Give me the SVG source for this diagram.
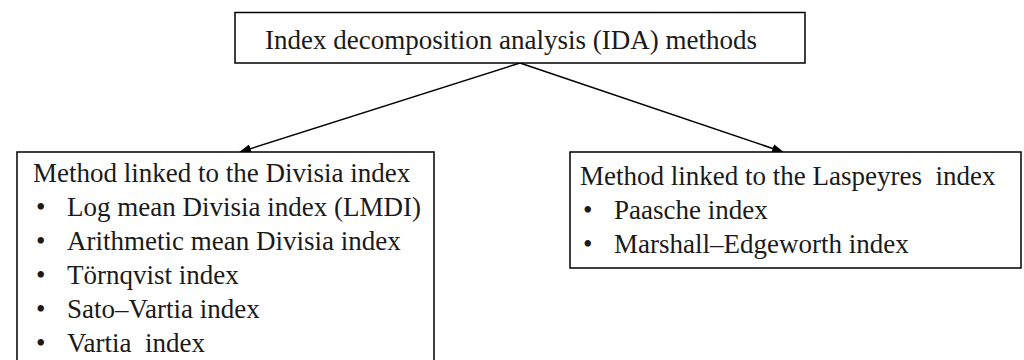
<svg xmlns="http://www.w3.org/2000/svg" width="1024" height="360" viewBox="0 0 1024 360">
<style>
.box{fill:#fff;stroke:#000;stroke-width:1.5}
.t{font-family:"Liberation Serif","Times New Roman",serif;font-size:27px;fill:#1a1a1a}
.ln{stroke:#000;stroke-width:1.5;fill:none}
</style>
<defs>
<marker id="ah" markerWidth="12" markerHeight="9" refX="11" refY="4.5" orient="auto" markerUnits="userSpaceOnUse">
<path d="M0,0 L12,4.5 L0,9 z" fill="#000"/>
</marker>
</defs>
<rect width="1024" height="360" fill="#fff"/>
<g id="connectors">
<line class="ln" x1="520" y1="63" x2="240" y2="152" marker-end="url(#ah)"/>
<line class="ln" x1="520" y1="63" x2="783" y2="152" marker-end="url(#ah)"/>
</g>
<g id="top">
<rect class="box" x="235" y="12.5" width="570" height="50.5"/>
<text class="t" x="265" y="49">Index decomposition analysis (IDA) methods</text>
</g>
<g id="divisia">
<rect class="box" x="17" y="152" width="417" height="220"/>
<text class="t" x="33" y="182">Method linked to the Divisia index</text>
<text class="t" x="36" y="216">•</text><text class="t" x="67" y="216">Log mean Divisia index (LMDI)</text>
<text class="t" x="36" y="250">•</text><text class="t" x="67" y="250">Arithmetic mean Divisia index</text>
<text class="t" x="36" y="284">•</text><text class="t" x="67" y="284">Törnqvist index</text>
<text class="t" x="36" y="318">•</text><text class="t" x="67" y="318">Sato–Vartia index</text>
<text class="t" x="36" y="352">•</text><text class="t" x="67" y="352" xml:space="preserve">Vartia  index</text>
</g>
<g id="laspeyres">
<rect class="box" x="570" y="152" width="451" height="116"/>
<text class="t" x="580" y="185" xml:space="preserve">Method linked to the Laspeyres  index</text>
<text class="t" x="583" y="219">•</text><text class="t" x="614" y="219">Paasche index</text>
<text class="t" x="583" y="253">•</text><text class="t" x="614" y="253">Marshall–Edgeworth index</text>
</g>
</svg>
